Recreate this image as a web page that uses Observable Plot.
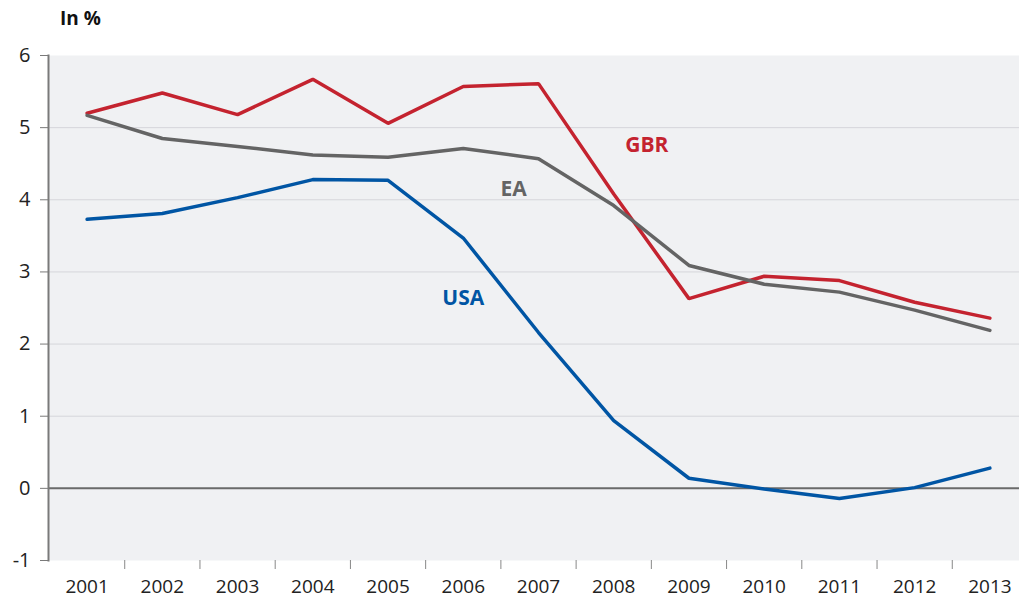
<!DOCTYPE html>
<html>
<head>
<meta charset="utf-8">
<script src="https://cdn.jsdelivr.net/npm/d3@7"></script>
<script src="https://cdn.jsdelivr.net/npm/@observablehq/plot@0.6"></script>
<style>
  html, body { margin: 0; padding: 0; background: #fff; }
  #wrap { position: relative; width: 1019px; height: 601px; }
  #title { position: absolute; left: 60px; top: 5px; font: bold 19px "Open Sans", sans-serif; color: #111; }
</style>
</head>
<body>
<div id="wrap"><div id="title">In %</div></div>
<script>
const years = [2001, 2002, 2003, 2004, 2005, 2006, 2007, 2008, 2009, 2010, 2011, 2012, 2013];
const usa = [3.73, 3.81, 4.03, 4.28, 4.27, 3.47, 2.16, 0.94, 0.14, -0.01, -0.14, 0.01, 0.28];
const gbr = [5.20, 5.48, 5.18, 5.67, 5.06, 5.57, 5.61, 4.08, 2.63, 2.94, 2.88, 2.58, 2.36];
const ea  = [5.17, 4.85, 4.74, 4.62, 4.59, 4.71, 4.57, 3.92, 3.09, 2.83, 2.72, 2.47, 2.19];
const yTicks = [-1, 0, 1, 2, 3, 4, 5, 6];
const seriesNames = ["GBR", "EA", "USA"];
const seriesColors = ["#c4232f", "#646464", "#0055a4"];
const labelYear = [2008.44, 2006.67, 2006.0];
const labelValue = [4.75, 4.14, 2.63];

const valuesBySeries = { GBR: gbr, EA: ea, USA: usa };
const rows = [];
for (const s of seriesNames) years.forEach((yr, i) => rows.push({ series: s, year: yr, value: valuesBySeries[s][i] }));
const labels = seriesNames.map((s, i) => ({ series: s, year: labelYear[i], value: labelValue[i] }));
const boundaries = years.slice(0, -1).map(y => y + 0.5);

const chart = Plot.plot({
  width: 1019,
  height: 601,
  marginTop: 55,
  marginBottom: 41,
  marginLeft: 48,
  marginRight: 0,
  x: { domain: [2000.5, 2013.5], range: [49, 1027] },
  y: { domain: [-1, 6] },
  color: { domain: seriesNames, range: seriesColors },
  style: { fontFamily: "'Open Sans', sans-serif", fontSize: "19px", color: "#222", background: "transparent" },
  marks: [
    Plot.frame({ fill: "#f0f1f3", stroke: null }),
    Plot.gridY([1, 2, 3, 4, 5], { stroke: "#d5d6da", strokeOpacity: 1, strokeWidth: 1 }),
    Plot.ruleY([0], { stroke: "#6a6a6a", strokeWidth: 2 }),
    Plot.frame({ anchor: "left", stroke: "#7a7a7a", strokeWidth: 2 }),
    Plot.axisY({ ticks: yTicks, tickSize: 8, tickPadding: 10, stroke: "#7a7a7a", label: null, fontSize: 20, tickFormat: d => String(d) }),
    Plot.axisX({ ticks: years, tickSize: 0, tickPadding: 19, tickFormat: d => String(d), label: null, fontSize: 19 }),
    Plot.axisX({ ticks: boundaries, tickSize: 9, tickFormat: () => "", stroke: "#888", label: null }),
    Plot.line(rows, { x: "year", y: "value", z: "series", stroke: "series", strokeWidth: 3.5, strokeLinejoin: "miter", strokeLinecap: "round" }),
    Plot.text(labels, { x: "year", y: "value", text: "series", fill: "series", fontWeight: "bold", fontSize: 21 })
  ]
});
chart.style.position = "absolute";
chart.style.left = "0";
chart.style.top = "0";
document.getElementById("wrap").prepend(chart);
</script>
</body>
</html>
